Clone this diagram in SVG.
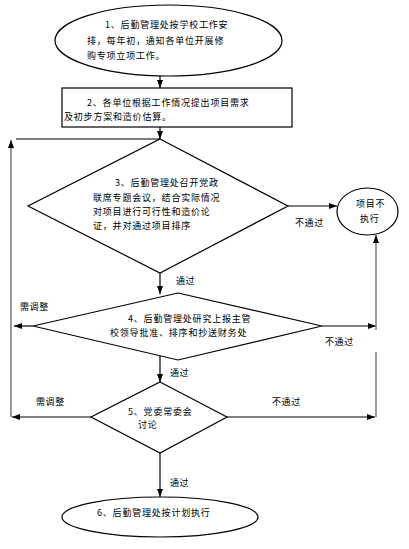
<svg xmlns="http://www.w3.org/2000/svg" width="409" height="549" viewBox="0 0 409 549">
<defs>
<marker id="ah" viewBox="0 0 8 6" refX="8" refY="3" markerWidth="8" markerHeight="6" markerUnits="userSpaceOnUse" orient="auto">
<path d="M0,0 L8,3 L0,6 Z" fill="#000"/>
</marker>
</defs>
<style>
.shape{fill:#fff;stroke:#000;stroke-width:1.2}
.t{font-family:"Noto Sans CJK SC","Noto Sans",sans-serif;font-size:9px;letter-spacing:0.8px;fill:#000}
.lbl{font-family:"Noto Sans CJK SC","Noto Sans",sans-serif;font-size:9px;letter-spacing:0.6px;fill:#000}
.c{fill:none;stroke:#000;stroke-width:1.2}
.g{fill:none;stroke:#808080;stroke-width:1.6}
</style>
<rect width="409" height="549" fill="#fff"/>
<g id="connectors">
<line class="c" x1="160" y1="76" x2="160" y2="88" marker-end="url(#ah)"/>
<line class="c" x1="160" y1="127" x2="160" y2="139" marker-end="url(#ah)"/>
<line class="c" x1="16" y1="139" x2="160" y2="139"/>
<line class="g" x1="11" y1="417" x2="11" y2="140" marker-end="url(#ah)"/>
<line class="c" x1="288" y1="206" x2="337" y2="206" marker-end="url(#ah)"/>
<line class="c" x1="160" y1="273" x2="160" y2="294" marker-end="url(#ah)"/>
<line class="c" x1="33" y1="326" x2="14" y2="326" marker-end="url(#ah)"/>
<line class="c" x1="322" y1="326" x2="376" y2="326" marker-end="url(#ah)"/>
<line class="g" x1="376" y1="417" x2="376" y2="352"/>
<line class="g" x1="376" y1="330" x2="376" y2="235" marker-end="url(#ah)"/>
<line class="c" x1="160" y1="356" x2="160" y2="382" marker-end="url(#ah)"/>
<line class="c" x1="91" y1="417" x2="12" y2="417" marker-end="url(#ah)"/>
<line class="c" x1="227" y1="417" x2="375" y2="417" marker-end="url(#ah)"/>
<line class="c" x1="160" y1="453" x2="160" y2="497" marker-end="url(#ah)"/>
<text class="lbl" x="295" y="226">不通过</text>
<text class="lbl" x="176" y="284">通过</text>
<text class="lbl" x="20" y="310">需调整</text>
<text class="lbl" x="325" y="345">不通过</text>
<text class="lbl" x="170" y="376">通过</text>
<text class="lbl" x="36" y="405">需调整</text>
<text class="lbl" x="272" y="405">不通过</text>
<text class="lbl" x="170" y="486">通过</text>
</g>
<g id="n1">
<ellipse class="shape" cx="168.5" cy="40.5" rx="113.5" ry="35.5"/>
<text class="t" x="105" y="28">1、后勤管理处按学校工作安</text>
<text class="t" x="87" y="44">排，每年初，通知各单位开展修</text>
<text class="t" x="87" y="59">购专项立项工作。</text>
</g>
<g id="n2">
<rect class="shape" x="62" y="88" width="230" height="39"/>
<text class="t" x="87" y="106">2、各单位根据工作情况提出项目需求</text>
<text class="t" x="64" y="120">及初步方案和造价估算。</text>
</g>
<g id="n3">
<polygon class="shape" points="160,139 288,206 160,273 28,206"/>
<text class="t" x="115" y="186">3、后勤管理处召开党政</text>
<text class="t" x="93" y="201">联席专题会议，结合实际情况</text>
<text class="t" x="93" y="215">对项目进行可行性和造价论</text>
<text class="t" x="93" y="229">证，并对通过项目排序</text>
</g>
<g id="nx">
<ellipse class="shape" cx="367.5" cy="211.5" rx="30.5" ry="23.5"/>
<text class="t" x="356" y="207">项目不</text>
<text class="t" x="360" y="222">执行</text>
</g>
<g id="n4">
<polygon class="shape" points="178,293 322,326 178,360 33,326"/>
<text class="t" x="128" y="322">4、后勤管理处研究上报主管</text>
<text class="t" x="110" y="336">校领导批准、排序和抄送财务处</text>
</g>
<g id="n5">
<polygon class="shape" points="160,382 227,417 160,453 91,417"/>
<text class="t" x="128" y="415">5、党委常委会</text>
<text class="t" x="138" y="428">讨论</text>
</g>
<g id="n6">
<ellipse class="shape" cx="160" cy="517" rx="98" ry="20"/>
<text class="t" x="97" y="516">6、后勤管理处按计划执行</text>
</g>
</svg>
